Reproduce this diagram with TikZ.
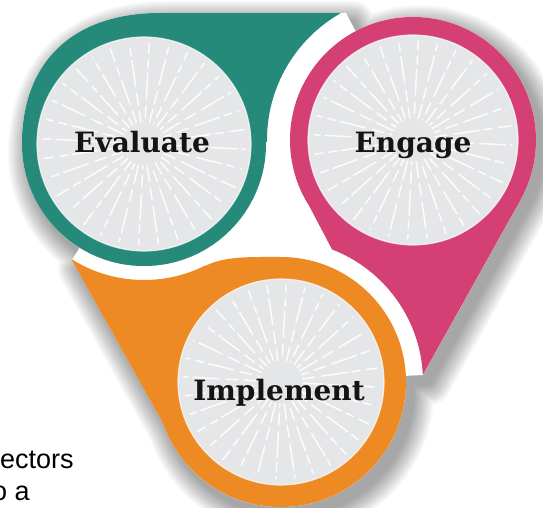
\documentclass[tikz,border=0pt]{standalone}
\usepackage{fontspec}
\setmainfont{DejaVu Serif}
\newfontfamily\sansf{Liberation Sans}
\definecolor{cTeal}{RGB}{37,138,121}
\definecolor{cPink}{RGB}{212,63,116}
\definecolor{cOrange}{RGB}{237,138,35}
\definecolor{cGrey}{RGB}{229,230,232}
\newcommand\sunburst[2]{%
  \begin{scope}[shift={#1}]
  \foreach \k in {0,...,31} {
    \pgfmathsetmacro\ang{\k*11.25+3}
    \pgfmathsetmacro\ph{mod(\k*13,29)}
    \draw[ray, dash pattern=on 20pt off 6pt on 12pt off 7pt on 26pt off 5pt on 8pt off 6pt, dash phase=\ph pt] (\ang:22) -- (\ang:#2-6);
  }
  \end{scope}}
\begin{document}
\begin{tikzpicture}[x=1pt,y=-1pt,
  lbl/.style={font=\fontsize{28}{32}\selectfont\bfseries, text=black!92, inner sep=0pt, anchor=base},
  ray/.style={white, line width=1.5pt, line cap=round, opacity=.9},
  side/.style={font=\sansf\fontsize{27}{32}\selectfont, inner sep=0pt, anchor=base west},
  silh/.style={insert path={
    (22,144) .. controls (22,60) and (75,13) .. (160,13) -- (346,13) -- (413,140) -- (144,144) -- cycle
    (144,144) circle[radius=122] (413,140) circle[radius=123] (281,382) circle[radius=125]
    (520.5,199.8) -- (423,375) -- (281,382) -- (413,140) -- cycle
    (72,260) -- (173.7,442.1) -- (281,382) -- (144,144) -- cycle
    (144,144) -- (413,140) -- (281,382) -- cycle}}]
\useasboundingbox (0,0) rectangle (543,508);
\fill[white] (0,0) rectangle (543,508);
% soft shadow
\begin{scope}[shift={(7,9)}]
\foreach \w in {42,39,...,3} {
  \begin{scope}[transparency group, opacity=0.028]
  \path[silh, fill=black, draw=black, line width=\w pt, line join=round];
  \end{scope}
}
\end{scope}
\path[silh, fill=white];
% teal shape, cut by the halo of the pink circle
\begin{scope}
  \clip (0,0) rectangle (543,508) (413,140) circle[radius=146];
  \fill[cTeal] (22,144) .. controls (22,60) and (75,13) .. (160,13) -- (370,13) -- (370,60) -- (266,142.2) -- (144,144) -- cycle;
  \fill[cTeal] (144,144) circle[radius=122];
\end{scope}
% pink shape, cut by the halo of the orange circle
\begin{scope}
  \clip (0,0) rectangle (543,508) (281,382) circle[radius=142];
  \fill[cPink] (520.5,199.8) -- (410,398) -- (309.3,206.1) -- (413,140) -- cycle;
  \fill[cPink] (413,140) circle[radius=123];
\end{scope}
% orange shape, cut by the halo of the teal circle
\begin{scope}
  \clip (0,0) rectangle (543,508) (144,144) circle[radius=136];
  \fill[cOrange] (58.4,236) -- (173.7,442.1) -- (281,382) -- (281,257) .. controls (250,257) and (225,256) .. (205,266) -- (205,200) -- cycle;
  \fill[cOrange] (281,382) circle[radius=125];
\end{scope}
% grey discs
\fill[cGrey] (144,144) circle[radius=107];
\fill[cGrey] (413,140) circle[radius=105];
\fill[cGrey] (281,382) circle[radius=103];
\sunburst{(144,144)}{107}
\sunburst{(413,140)}{105}
\sunburst{(281,382)}{103}
\draw[white, opacity=.7, line width=1.2pt] (144,144) circle[radius=107];
\draw[white, opacity=.7, line width=1.2pt] (413,140) circle[radius=105];
\draw[white, opacity=.7, line width=1.2pt] (281,382) circle[radius=103];
% labels
\node[lbl] (tEval) at (142,152) {Evaluate};
\node[lbl] (tEng) at (413,153) {Engage};
\node[lbl] (tImp) at (279,400) {Implement};
\node[side] (s1) at (0,468) {ectors};
\node[side] (s2) at (-8,500) {o a};
\end{tikzpicture}
\end{document}
